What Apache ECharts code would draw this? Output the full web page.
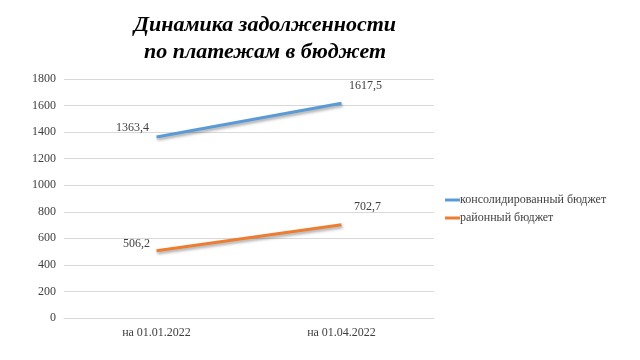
<!DOCTYPE html>
<html><head><meta charset="utf-8">
<script src="https://cdn.jsdelivr.net/npm/echarts@6/dist/echarts.min.js"></script>
<style>html,body{margin:0;padding:0;background:#fff}#c{width:640px;height:360px}</style>
</head><body><div id="c"></div>
<script>
const categories = ['на 01.01.2022', 'на 01.04.2022'];
const consolidated = [1363.4, 1617.5];
const district = [506.2, 702.7];
const seriesNames = ['консолидированный бюджет', 'районный бюджет'];
const yTicks = {min: 0, max: 1800, interval: 200};

const font = '"Liberation Serif", "Times New Roman", serif';
const fmt = v => String(v).replace('.', ',');
function mk(vals, offs) {
  return vals.map((v, i) => ({value: v, label: {offset: offs[i]}}));
}
const chart = echarts.init(document.getElementById('c'), null, {renderer: 'canvas'});
const lineStyle = {width: 3, shadowColor: 'rgba(0,0,0,0.35)', shadowBlur: 3, shadowOffsetY: 2, shadowOffsetX: 1};
const lbl = {show: true, position: 'top', distance: 0, formatter: p => fmt(p.value), fontFamily: font, fontSize: 12, color: '#404040'};
chart.setOption({
  animation: false,
  title: {
    text: 'Динамика задолженности\nпо платежам в бюджет',
    left: 260, textAlign: 'center', top: 7,
    textStyle: {fontFamily: font, fontSize: 22, fontWeight: 'bold', fontStyle: 'italic', color: '#000', lineHeight: 27}
  },
  legend: {
    orient: 'vertical', left: 440, top: 189, itemWidth: 15, itemHeight: 3, itemGap: 6,
    icon: 'rect',
    textStyle: {fontFamily: font, fontSize: 12, color: '#404040', padding: [0, 0, 0, -5]},
    data: seriesNames
  },
  grid: {left: 64, right: 206, top: 79, bottom: 42, containLabel: false},
  xAxis: {
    type: 'category', data: categories, boundaryGap: true,
    axisLine: {show: true, lineStyle: {color: '#d9d9d9'}},
    axisTick: {show: false},
    axisLabel: {fontFamily: font, fontSize: 12, color: '#404040', margin: 9}
  },
  yAxis: {
    type: 'value', min: yTicks.min, max: yTicks.max, interval: yTicks.interval,
    axisLine: {show: false}, axisTick: {show: false},
    splitLine: {lineStyle: {color: '#d9d9d9'}},
    axisLabel: {fontFamily: font, fontSize: 12, color: '#404040', margin: 8, formatter: v => String(v)}
  },
  series: [
    {
      name: seriesNames[0], type: 'line', data: mk(consolidated, [[-24, -3], [24, -11]]),
      symbol: 'circle', symbolSize: 0, showSymbol: true, color: '#5B9BD5',
      lineStyle: lineStyle, label: lbl
    },
    {
      name: seriesNames[1], type: 'line', data: mk(district, [[-20, -1], [26, -12]]),
      symbol: 'circle', symbolSize: 0, showSymbol: true, color: '#ED7D31',
      lineStyle: lineStyle, label: lbl
    }
  ]
});
</script></body></html>
